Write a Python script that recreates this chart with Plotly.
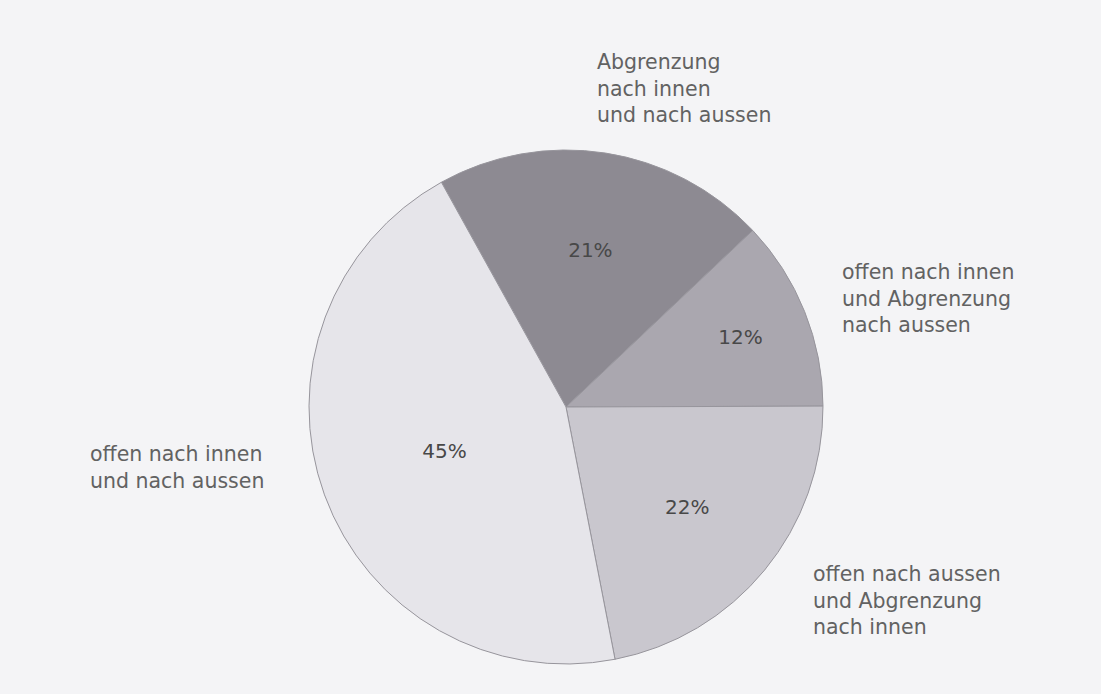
import plotly.graph_objects as go

# Anteile in Prozent, im Uhrzeigersinn ab dem dunkelsten Segment
labels = [
    "Abgrenzung<br>nach innen<br>und nach aussen",
    "offen nach innen<br>und Abgrenzung<br>nach aussen",
    "offen nach aussen<br>und Abgrenzung<br>nach innen",
    "offen nach innen<br>und nach aussen",
]
values = [21, 12, 22, 45]
colors = ["#8d8a92", "#aaa7af", "#c9c7ce", "#e6e5ea"]

# Lage der Beschriftungen (Pixel, linke obere Ecke des Textes)
label_pos = [(595, 48), (840, 258), (811, 560), (88, 440)]

W, H = 1101, 694
cx, cy, r = 566, 407, 257

fig = go.Figure(go.Pie(
    values=values,
    labels=labels,
    sort=False,
    direction="clockwise",
    rotation=-29,
    marker=dict(colors=colors, line=dict(color="#97959c", width=1)),
    texttemplate="%{value}%",
    textposition="inside",
    insidetextorientation="horizontal",
    textfont=dict(family="DejaVu Sans", size=20, color="#484848"),
    hoverinfo="label+percent",
    showlegend=False,
    domain=dict(x=[(cx - r) / W, (cx + r) / W], y=[1 - (cy + r) / H, 1 - (cy - r) / H]),
))

for text, (px, py) in zip(labels, label_pos):
    fig.add_annotation(
        text=text, x=px / W, y=1 - py / H, xref="paper", yref="paper",
        xanchor="left", yanchor="top", align="left", showarrow=False,
        font=dict(family="DejaVu Sans", size=20.5, color="#626262"),
    )

fig.update_layout(
    width=W, height=H,
    margin=dict(l=0, r=0, t=0, b=0),
    paper_bgcolor="#f4f4f6",
    plot_bgcolor="#f4f4f6",
)

fig.write_html("out.html", config={"displayModeBar": False},
               post_script="document.body.style.margin='0';")
